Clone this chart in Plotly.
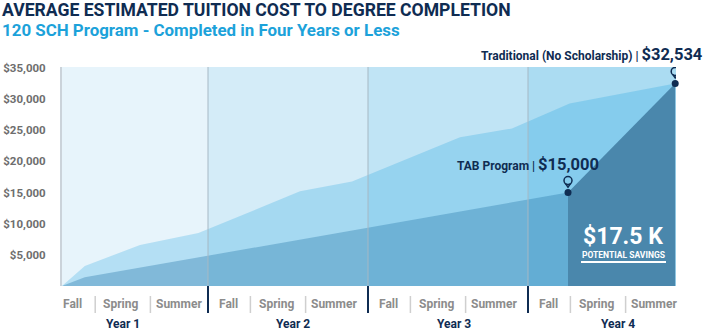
import plotly.graph_objects as go

# ---------------- data ----------------
years = ["Year 1", "Year 2", "Year 3", "Year 4"]
terms = ["Fall", "Spring", "Summer"]

# x positions in years since program start
trad_x = [0.0875, 0.23, 0.575, 0.94, 1.575, 1.90, 2.575, 2.90, 3.26, 3.92]
trad_y = [0, 3200, 6600, 8500, 15200, 16800, 23900, 25300, 29300, 32534]
tab_x = [0.0875, 0.23, 3.25]
tab_y = [0, 1400, 15000]

ytick_vals = [5000, 10000, 15000, 20000, 25000, 30000, 35000]
ytick_text = ["$5,000", "$10,000", "$15,000", "$20,000", "$25,000", "$30,000", "$35,000"]

trad_label = "Traditional (No Scholarship)"
tab_label = "TAB Program"

# ---------------- style ----------------
NAVY = "#0F2C52"
XMIN, XMAX = 0.0875, 3.925
YMAX = 35170
band_colors = ["#E7F4FB", "#D4ECF8", "#C0E4F5", "#ABDCF2"]
L, R, T, B = 62, 30, 67, 44
W, H = 706, 330
PW, PH = W - L - R, H - T - B


def px_x(px):
    return (px - L) / PW


def px_y(py):
    return (H - B - py) / PH


fig = go.Figure()

fig.add_trace(go.Scatter(
    x=trad_x, y=trad_y, mode="lines", line=dict(width=0),
    fill="tozeroy", fillcolor="rgba(0,150,220,0.22)", hoverinfo="skip"))
fig.add_trace(go.Scatter(
    x=tab_x, y=tab_y, mode="lines", line=dict(width=0),
    fill="tozeroy", fillcolor="rgba(40,120,170,0.36)", hoverinfo="skip"))
fig.add_trace(go.Scatter(
    x=[tab_x[-1], trad_x[-1]], y=[tab_y[-1], trad_y[-1]], mode="lines",
    line=dict(width=0), fill="tozeroy", fillcolor="#4A87AC", hoverinfo="skip"))
fig.add_trace(go.Scatter(
    x=[tab_x[-1], trad_x[-1]], y=[tab_y[-1], trad_y[-1]], mode="markers",
    marker=dict(size=7, color=NAVY), cliponaxis=False, hoverinfo="skip"))

shapes = []
# year background bands
for i, c in enumerate(band_colors):
    shapes.append(dict(type="rect", xref="x", yref="paper",
                       x0=max(i, XMIN), x1=min(i + 1, XMAX), y0=0, y1=1,
                       fillcolor=c, line=dict(width=0), layer="below"))
# year dividers
for i in range(1, 4):
    shapes.append(dict(type="line", xref="x", yref="paper", x0=i, x1=i, y0=0, y1=1,
                       line=dict(color="#A6B8C4", width=1), layer="above"))
    shapes.append(dict(type="line", xref="x", yref="paper", x0=i, x1=i, y0=0,
                       y1=-27 / PH, line=dict(color=NAVY, width=2)))
# term separators
for i in range(4):
    for off in (0.265, 0.61):
        shapes.append(dict(type="line", xref="x", yref="paper",
                           x0=i + off + (0.03 if i == 0 else 0),
                           x1=i + off + (0.03 if i == 0 else 0),
                           y0=-10 / PH, y1=-27 / PH,
                           line=dict(color="#CFCFCF", width=1.5)))
# pins
for xx, yy in [(tab_x[-1], tab_y[-1]), (trad_x[-1], trad_y[-1])]:
    shapes.append(dict(type="circle", xref="x", yref="y", xsizemode="pixel",
                       ysizemode="pixel", xanchor=xx, yanchor=yy,
                       x0=-4, x1=4, y0=8, y1=16,
                       line=dict(color=NAVY, width=1.5), fillcolor="rgba(255,255,255,0)"))
    shapes.append(dict(type="path", xref="x", yref="y", xsizemode="pixel",
                       ysizemode="pixel", xanchor=xx, yanchor=yy,
                       path="M -2.5,9 L 0,5.5 L 2.5,9",
                       line=dict(color=NAVY, width=1.5)))
# underline for savings
shapes.append(dict(type="line", xref="paper", yref="paper", x0=px_x(581), x1=px_x(666),
                   y0=px_y(262), y1=px_y(262), line=dict(color="white", width=2)))

ann = []
ann.append(dict(xref="paper", yref="paper", x=px_x(0), y=px_y(10), xanchor="left",
                yanchor="middle", showarrow=False,
                text="<b>AVERAGE ESTIMATED TUITION COST TO DEGREE COMPLETION</b>",
                font=dict(family="Roboto", size=17.6, color=NAVY)))
ann.append(dict(xref="paper", yref="paper", x=px_x(0), y=px_y(30), xanchor="left",
                yanchor="middle", showarrow=False,
                text="<b>120 SCH Program - Completed in Four Years or Less</b>",
                font=dict(family="Roboto", size=16.9, color="#1CA2DA")))
ann.append(dict(xref="paper", yref="paper", x=px_x(705), y=px_y(54), xanchor="right",
                yanchor="middle", showarrow=False,
                text=f"<b>{trad_label} | <span style='font-size:16.5px'>${trad_y[-1]:,}</span></b>",
                font=dict(family="Roboto", size=12, color=NAVY)))
ann.append(dict(xref="paper", yref="paper", x=px_x(601), y=px_y(164), xanchor="right",
                yanchor="middle", showarrow=False,
                text=f"<b>{tab_label} | <span style='font-size:16.5px'>${tab_y[-1]:,}</span></b>",
                font=dict(family="Roboto", size=12, color=NAVY)))
savings = (trad_y[-1] - tab_y[-1]) / 1000
ann.append(dict(xref="paper", yref="paper", x=px_x(623), y=px_y(236), xanchor="center",
                yanchor="middle", showarrow=False, text=f"<b>${savings:.1f} K</b>",
                font=dict(family="Roboto", size=23, color="white")))
ann.append(dict(xref="paper", yref="paper", x=px_x(623), y=px_y(255), xanchor="center",
                yanchor="middle", showarrow=False, text="<b>POTENTIAL SAVINGS</b>",
                font=dict(family="Roboto", size=8.5, color="white")))
# term labels
for i in range(4):
    sh = 0.03 if i == 0 else 0
    for t, off in zip(terms, (0.125, 0.425, 0.79)):
        ann.append(dict(xref="x", yref="paper", x=i + off + sh, y=px_y(304),
                        xanchor="center", yanchor="middle", showarrow=False,
                        text=f"<b>{t}</b>",
                        font=dict(family="Roboto", size=12, color="#8C8C8C")))
year_centers = [0.47, 1.53, 2.54, 3.56]
for yr, xc in zip(years, year_centers):
    ann.append(dict(xref="x", yref="paper", x=xc, y=px_y(324), xanchor="center",
                    yanchor="middle", showarrow=False, text=f"<b>{yr}</b>",
                    font=dict(family="Roboto", size=12, color=NAVY)))

fig.update_layout(
    width=W, height=H, margin=dict(l=L, r=R, t=T, b=B, autoexpand=False),
    paper_bgcolor="white", plot_bgcolor="white", showlegend=False,
    shapes=shapes, annotations=ann,
    xaxis=dict(range=[XMIN, XMAX], showticklabels=False, showgrid=False,
               zeroline=False, ticks="", showline=False, fixedrange=True,
               automargin=False),
    yaxis=dict(range=[0, YMAX], tickvals=ytick_vals, ticktext=ytick_text,
               showgrid=False, zeroline=False, showline=True, linecolor="#CBD3DA",
               linewidth=2, ticks="outside", ticklen=12, tickcolor="rgba(0,0,0,0)",
               tickfont=dict(family="Roboto", size=11.5, color="#6E6E6E", weight="bold"),
               fixedrange=True, automargin=False),
)

fig.write_html("out.html")
